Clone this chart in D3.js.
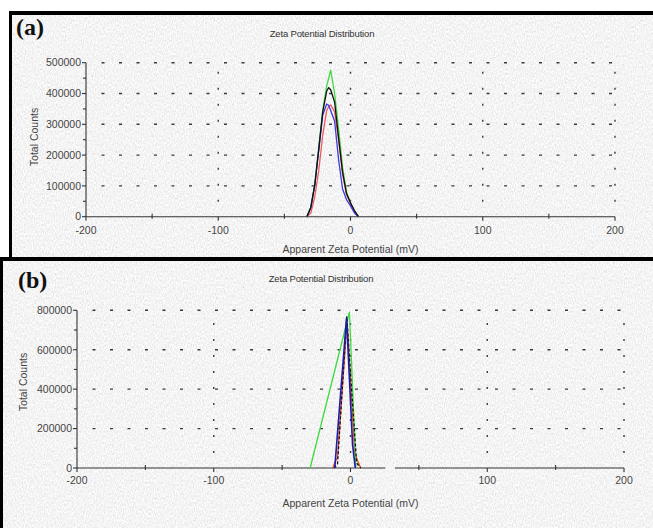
<!DOCTYPE html>
<html><head><meta charset="utf-8">
<script src="https://cdn.jsdelivr.net/npm/d3@7"></script>
<style>body{margin:0;background:#fff}svg{display:block}</style>
</head><body><script>
// ---------- data ----------
const xTicks = [-200, -100, 0, 100, 200];
const xMinor = [-150, -50, 50, 150];
const xGrid = [-100, 0, 100, 200];
const aYTicks = [0, 100000, 200000, 300000, 400000, 500000];
const aYMinor = [50000, 150000, 250000, 350000, 450000];
const bYTicks = [0, 200000, 400000, 600000, 800000];
const bYMinor = [100000, 300000, 500000, 700000];

// panel (a): shared mV grid
const aMv    = [-33, -30, -27, -24, -21, -18, -16.5, -15, -12, -9, -6, -3, 0, 3, 6];
const aGreen = [0, 30000, 105000, 225000, 345000, 425000, 450000, 476000, 400000, 285000, 160000, 80000, 45000, 18000, 0];
const aRed   = [0, 12000, 65000, 150000, 265000, 345000, 358000, 363000, 340000, 250000, 140000, 72000, 42000, 16000, 0];
const aBlue  = [0, 30000, 103000, 215000, 330000, 366000, 362000, 345000, 310000, 185000, 90000, 55000, 35000, 12000, 0];
const aBlack = [0, 30000, 103000, 220000, 340000, 408000, 419000, 412000, 372000, 255000, 145000, 75000, 45000, 20000, 0];

// panel (b): each series has its own mV points
const bGreenMv = [-29.5, -0.8, 4];
const bGreen   = [0, 790000, 0];
const bRedMv   = [-13, -11, -9.5, -2.5, 3, 5, 7.5];
const bRed     = [0, 35000, 50000, 745000, 80000, 40000, 0];
const bBlackMv = [-12, -9.5, -2.7, 0, 4.5, 7.5];
const bBlack   = [0, 20000, 768000, 480000, 25000, 0];
const bBlueMv  = [-11.5, -2.9, 1.5, 3.5];
const bBlue    = [0, 761000, 120000, 0];

const titleText = "Zeta Potential Distribution";
const xLabelText = "Apparent Zeta Potential (mV)";
const yLabelText = "Total Counts";

// ---------- drawing ----------
const W = 653, H = 528;
const svg = d3.select("body").append("svg").attr("width", W).attr("height", H);
svg.append("rect").attr("width", W).attr("height", H).attr("fill", "#fff");

const defs = svg.append("defs");
const f = defs.append("filter").attr("id", "tex").attr("x", 0).attr("y", 0)
  .attr("width", "100%").attr("height", "100%")
  .attr("color-interpolation-filters", "sRGB");
f.append("feTurbulence").attr("type", "fractalNoise").attr("baseFrequency", "0.9 0.45")
  .attr("numOctaves", 2).attr("seed", 4).attr("result", "n");
f.append("feColorMatrix").attr("type", "matrix")
  .attr("values", "0.33 0.33 0.33 0 0  0.33 0.33 0.33 0 0  0.33 0.33 0.33 0 0  0 0 0 0 1");
const ct = f.append("feComponentTransfer");
["feFuncR", "feFuncG", "feFuncB"].forEach(n =>
  ct.append(n).attr("type", "linear").attr("slope", 0.32).attr("intercept", 0.8));

const font = "'Liberation Sans', Arial, sans-serif";

function panel(cfg) {
  const g = svg.append("g");
  g.append("rect").attr("x", cfg.bg[0]).attr("y", cfg.bg[1]).attr("width", cfg.bg[2])
    .attr("height", cfg.bg[3]).attr("fill", "#f1f1f1").attr("filter", "url(#tex)");

  const x = d3.scaleLinear().domain([-200, 200]).range(cfg.xr);
  const y = d3.scaleLinear().domain([0, cfg.ymax]).range(cfg.yr);
  const x0 = x(-200), y0 = y(0);

  // grid
  g.append("g").selectAll("line").data(cfg.yTicks.filter(d => d > 0)).join("line")
    .attr("x1", x0 + 1).attr("x2", x(200)).attr("y1", d => y(d)).attr("y2", d => y(d))
    .attr("stroke", "#3a3a3a").attr("stroke-width", 1.4).attr("stroke-dasharray", "0,14.5,3,0");
  g.append("g").selectAll("line").data(xGrid).join("line")
    .attr("x1", d => x(d)).attr("x2", d => x(d)).attr("y1", y0 - 1).attr("y2", y(cfg.ymax))
    .attr("stroke", "#3a3a3a").attr("stroke-width", 1.4).attr("stroke-dasharray", "0,14,2,0");

  // axes
  const ax = g.append("g").attr("stroke", "#333").attr("stroke-width", 1.1);
  ax.append("line").attr("x1", x0).attr("x2", x0).attr("y1", y0).attr("y2", y(cfg.ymax));
  ax.append("line").attr("x1", x0).attr("x2", x(200)).attr("y1", y0).attr("y2", y0);
  ax.selectAll(".ym").data(cfg.yTicks).join("line").attr("x1", x0 - 4).attr("x2", x0)
    .attr("y1", d => y(d)).attr("y2", d => y(d));
  ax.selectAll(".yn").data(cfg.yMinor).join("line").attr("x1", x0 - 3).attr("x2", x0)
    .attr("y1", d => y(d)).attr("y2", d => y(d));
  ax.selectAll(".xm").data(xTicks).join("line").attr("x1", d => x(d)).attr("x2", d => x(d))
    .attr("y1", y0).attr("y2", y0 + 4);
  ax.selectAll(".xn").data(xMinor).join("line").attr("x1", d => x(d)).attr("x2", d => x(d))
    .attr("y1", y0 - 3).attr("y2", y0 + 2);
  if (cfg.gap) {
    g.append("rect").attr("x", x(cfg.gap[0])).attr("width", x(cfg.gap[1]) - x(cfg.gap[0]))
      .attr("y", y0 - 2).attr("height", 4).attr("fill", "#f6f6f6");
  }

  const lab = g.append("g").attr("font-family", font).attr("fill", "#454545").attr("font-size", "10.5px");
  lab.selectAll(".yl").data(cfg.yTicks).join("text").attr("x", x0 - 5).attr("y", d => y(d))
    .attr("dy", "0.36em").attr("text-anchor", "end").text(d => d3.format("d")(d));
  lab.selectAll(".xl").data(xTicks).join("text").attr("x", d => x(d)).attr("y", cfg.tickY)
    .attr("text-anchor", "middle").text(d => d);
  lab.append("text").attr("x", x(0)).attr("y", cfg.xLabY).attr("text-anchor", "middle").text(xLabelText);
  lab.append("text").attr("transform", `translate(${cfg.yLab[0]},${cfg.yLab[1]}) rotate(-90)`)
    .attr("text-anchor", "middle").attr("dy", "0.35em").text(yLabelText);
  lab.append("text").attr("x", cfg.title[0]).attr("y", cfg.title[1]).attr("text-anchor", "middle")
    .attr("font-size", "9.5px").attr("fill", "#333").attr("letter-spacing", "-0.15px").text(titleText);

  // series
  const line = d3.line().x(d => x(d[0])).y(d => y(d[1]));
  cfg.series.forEach(s => {
    g.append("path").datum(s.mv.map((m, i) => [m, s.v[i]])).attr("d", line)
      .attr("fill", "none").attr("stroke", s.c).attr("stroke-width", s.w || 1.3)
      .attr("stroke-dasharray", s.dash || null).attr("stroke-linejoin", "round");
  });

  g.append("text").attr("x", cfg.tag[0]).attr("y", cfg.tag[1]).attr("font-family", "'Liberation Serif', 'Times New Roman', serif")
    .attr("font-weight", "bold").attr("font-size", "24px").attr("fill", "#111").text(cfg.tag[2]);
}

panel({
  bg: [12, 15, 641, 242], xr: [86, 615], yr: [216.7, 62.7], ymax: 500000,
  yTicks: aYTicks, yMinor: aYMinor, tickY: 234, xLabY: 253, yLab: [34, 137], title: [322, 36.5],
  tag: [16, 35, "(a)"],
  series: [
    { mv: aMv, v: aGreen, c: "#3fd93f" },
    { mv: aMv, v: aRed, c: "#f05a5a" },
    { mv: aMv, v: aBlue, c: "#3a3ae0" },
    { mv: aMv, v: aBlack, c: "#111" }
  ]
});

panel({
  bg: [3, 261, 650, 267], xr: [77, 624], yr: [468, 310.3], ymax: 800000,
  yTicks: bYTicks, yMinor: bYMinor, tickY: 484, xLabY: 507, yLab: [23, 382], title: [321, 282],
  tag: [18, 288, "(b)"], gap: [25.5, 32.5],
  series: [
    { mv: bRedMv, v: bRed, c: "#e8502a" },
    { mv: bGreenMv, v: bGreen, c: "#3fd93f" },
    { mv: bBlackMv, v: bBlack, c: "#111", dash: "3,2" },
    { mv: bBlueMv, v: bBlue, c: "#1c1ca8", w: 1.6 }
  ]
});

// black frames
const fr = svg.append("g").attr("fill", "#000");
fr.append("rect").attr("x", 9).attr("y", 11).attr("width", W - 9).attr("height", 4);
fr.append("rect").attr("x", 9).attr("y", 11).attr("width", 3).attr("height", 247);
fr.append("rect").attr("x", 0).attr("y", 257).attr("width", W).attr("height", 4);
fr.append("rect").attr("x", 0).attr("y", 257).attr("width", 3).attr("height", H - 257);
</script></body></html>
